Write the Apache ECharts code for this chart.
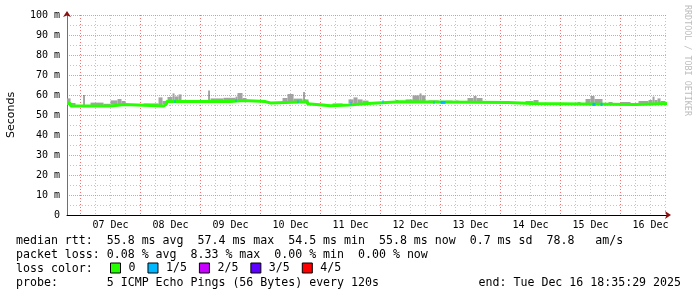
<!DOCTYPE html>
<html><head><meta charset="utf-8">
<script src="https://cdn.jsdelivr.net/npm/echarts@6/dist/echarts.min.js"></script>
<style>html,body{margin:0;padding:0;background:#fff}#c{width:697px;height:297px}</style>
</head><body><div id="c"></div>
<script>
// time unit: hours since 07 Dec 2025 00:00; window = 10 days ending Tue Dec 16 18:35:29 2025
const WINDOW_END_H = 9 * 24 + 18 + 35 / 60 + 29 / 3600;
const WINDOW_START_H = WINDOW_END_H - 240;
const DAY_LABELS = ['07 Dec', '08 Dec', '09 Dec', '10 Dec', '11 Dec', '12 Dec', '13 Dec', '14 Dec', '15 Dec', '16 Dec'];
const Y_MIN_MS = 0, Y_MAX_MS = 100, Y_STEP_MS = 10;

// median rtt (ms), piecewise constant from each start hour
const MEDIAN_START_H = [-5.41, -4.0, 12.0, 17.6, 33.2, 34.4, 60.0, 65.2, 74.0, 76.0, 90.8, 92.0, 100.0, 107.2, 114.8, 128.0, 171.2, 180.8, 222.0];
const MEDIAN_MS      = [55.7, 54.5, 55.2, 54.5, 55.5, 56.7, 57.2, 56.7, 56.0, 56.6, 55.5, 54.6, 55.0, 55.8, 56.6, 56.3, 55.7, 55.3, 55.8];

// smoke (spread of the 5 pings above the median): start hour, end hour, top (ms)
const SMOKE_START_H = [-5.4, -4.0, 4.0, 9.2, 12.0, 14.8, 16.4, 20.0, 25.2, 31.2, 32.8, 34.8, 36.8, 37.6, 39.2, 40.4, 44.8, 52.0, 57.2, 62.0, 62.8, 64.8, 67.2, 72.8, 80.8, 82.8, 85.2, 89.6, 94.0, 100.8, 107.2, 109.2, 110.8, 112.8, 126.0, 130.0, 132.8, 135.6, 136.4, 139.2, 146.0, 150.0, 154.8, 157.2, 158.4, 164.0, 178.0, 181.2, 186.0, 198.8, 202.0, 204.0, 205.6, 211.2, 216.0, 223.2, 227.2, 228.8, 229.6, 230.8, 232.0];
const SMOKE_END_H   = [-4.0, -2.0, 9.2, 12.0, 14.8, 16.4, 18.0, 25.2, 31.2, 32.8, 34.8, 36.8, 37.6, 39.2, 40.4, 42.0, 50.0, 57.2, 62.0, 62.8, 64.8, 66.4, 70.0, 76.0, 82.8, 85.2, 88.8, 91.2, 98.0, 104.8, 109.2, 110.8, 112.8, 115.2, 127.2, 132.8, 135.6, 136.4, 138.0, 143.2, 148.8, 151.2, 157.2, 158.4, 160.8, 168.0, 181.2, 183.2, 190.0, 200.0, 204.0, 205.6, 208.8, 212.8, 220.0, 227.2, 228.8, 229.6, 230.8, 232.0, 234.0];
const SMOKE_TOP_MS  = [58.3, 56.0, 56.2, 55.6, 57.3, 58.0, 57.0, 55.3, 55.8, 58.8, 57.0, 59.0, 60.8, 59.3, 60.3, 57.5, 57.2, 58.3, 58.6, 59.2, 61.0, 58.5, 57.0, 56.5, 58.5, 60.5, 58.2, 57.8, 55.6, 55.8, 57.8, 58.8, 57.8, 57.2, 57.5, 57.8, 59.8, 60.8, 59.8, 57.3, 57.2, 57.2, 58.5, 59.5, 58.5, 57.0, 57.0, 57.5, 56.0, 56.5, 58.0, 59.5, 58.0, 56.5, 56.5, 57.0, 57.5, 59.2, 57.5, 58.3, 57.0];

// single-ping outliers
const OUTLIER_H  = [1.2, 51.2, 89.2];
const OUTLIER_MS = [60.0, 62.2, 61.5];

// packet loss episodes (level in fifths)
const LOSS_START_H = [37.6, 62.0, 86.8, 108.0, 120.8, 141.2, 144.0, 204.8, 208.0];
const LOSS_END_H   = [38.0, 62.4, 87.2, 108.4, 121.2, 141.6, 146.0, 206.0, 208.8];
const LOSS_LEVEL   = [1, 1, 1, 1, 1, 1, 1, 1, 1];

const LOSS_LABELS = ['0', '1/5', '2/5', '3/5', '4/5'];
const LOSS_COLORS = ['#26ff00', '#00b8ff', '#c800ff', '#5e00ff', '#ff0000'];

const STAT_LINES = [
  'median rtt:  55.8 ms avg  57.4 ms max  54.5 ms min  55.8 ms now  0.7 ms sd  78.8   am/s',
  'packet loss: 0.08 % avg  8.33 % max  0.00 % min  0.00 % now',
  'loss color:',
  'probe:       5 ICMP Echo Pings (56 Bytes) every 120s'
];
const END_TEXT = 'end: Tue Dec 16 18:35:29 2025';
const WATERMARK = 'RRDTOOL / TOBI OETIKER';

const D = h => h / 24;
function medianAt(h) {
  let v = MEDIAN_MS[0];
  for (let i = 0; i < MEDIAN_START_H.length; i++) if (MEDIAN_START_H[i] <= h) v = MEDIAN_MS[i];
  return v;
}

const medianData = MEDIAN_START_H.map((h, i) => [D(h), MEDIAN_MS[i]]);
medianData.push([D(WINDOW_END_H), MEDIAN_MS[MEDIAN_MS.length - 1]]);

const smokeData = SMOKE_START_H.map((s, i) => [D(s), D(SMOKE_END_H[i]), SMOKE_TOP_MS[i], medianAt((s + SMOKE_END_H[i]) / 2)]);
const outlierData = OUTLIER_H.map((h, i) => [D(h), D(h + 0.4), OUTLIER_MS[i], medianAt(h)]);
const lossData = LOSS_START_H.map((s, i) => [D(s), D(LOSS_END_H[i]), medianAt((s + LOSS_END_H[i]) / 2), LOSS_LEVEL[i]]);

function bandRender(fill) {
  return function (params, api) {
    const p0 = api.coord([api.value(0), api.value(2)]);
    const p1 = api.coord([api.value(1), api.value(3)]);
    return { type: 'rect', shape: { x: p0[0], y: p0[1], width: Math.max(1, p1[0] - p0[0]), height: p1[1] - p0[1] }, style: { fill: fill } };
  };
}

const MONO = '"DejaVu Sans Mono", monospace';
const chart = echarts.init(document.getElementById('c'), null, { renderer: 'canvas' });

const redGrid = (dash, alpha) => ({ show: true, lineStyle: { color: 'rgba(240,20,20,' + alpha + ')', type: dash, width: 1 } });
const greyGrid = () => ({ show: true, lineStyle: { color: 'rgba(150,150,150,0.55)', type: [1, 2], width: 1 } });

const option = {
  animation: false,
  backgroundColor: '#ffffff',
  grid: { left: 67, top: 15, width: 600, height: 200, containLabel: false, outerBoundsMode: 'none' },
  xAxis: [
    {
      type: 'value', min: D(WINDOW_START_H), max: D(WINDOW_END_H),
      splitNumber: 10, minInterval: 1, maxInterval: 1,
      axisLine: { show: true, onZero: false, lineStyle: { color: '#000', width: 1 } },
      axisTick: { show: false }, axisLabel: { show: false },
      splitLine: Object.assign({ showMinLine: false, showMaxLine: false }, redGrid([1, 2], 0.6)),
      minorTick: { show: false, splitNumber: 4 },
      minorSplitLine: greyGrid()
    },
    {
      type: 'value', min: D(WINDOW_START_H - 12), max: D(WINDOW_END_H - 12),
      splitNumber: 10, minInterval: 1, maxInterval: 1, position: 'bottom',
      axisLine: { show: true, onZero: false, symbol: ['none', 'arrow'], symbolSize: [6, 6], symbolOffset: [0, 4], lineStyle: { color: '#8b1010', width: 0 } },
      axisTick: { show: false }, splitLine: { show: false },
      axisLabel: {
        show: true, showMinLabel: false, showMaxLabel: false, margin: 5,
        fontFamily: MONO, fontSize: 10, color: '#000',
        formatter: v => { const i = Math.round(v); return Math.abs(v - i) < 1e-6 && DAY_LABELS[i] ? DAY_LABELS[i] : ''; }
      }
    }
  ],
  yAxis: [
    {
      type: 'value', min: Y_MIN_MS, max: Y_MAX_MS, interval: Y_STEP_MS,
      name: 'Seconds', nameLocation: 'middle', nameGap: 50,
      nameTextStyle: { fontFamily: '"DejaVu Sans", sans-serif', fontSize: 11, color: '#000' },
      axisLine: { show: true, onZero: false, lineStyle: { color: '#707070', width: 1 } },
      axisTick: { show: false },
      axisLabel: { margin: 7, fontFamily: MONO, fontSize: 10, color: '#000', formatter: v => v === 0 ? '0' : v + ' m' },
      splitLine: Object.assign({ showMinLine: false }, redGrid([1, 1], 0.45)),
      minorTick: { show: false, splitNumber: 2 },
      minorSplitLine: greyGrid()
    },
    {
      type: 'value', min: Y_MIN_MS, max: Y_MAX_MS, interval: Y_STEP_MS, position: 'left',
      axisLine: { show: true, onZero: false, symbol: ['none', 'arrow'], symbolSize: [6, 6], symbolOffset: [0, 4], lineStyle: { color: '#8b1010', width: 0 } },
      axisTick: { show: false }, axisLabel: { show: false }, splitLine: { show: false }
    }
  ],
  legend: {
    data: LOSS_LABELS.map(n => ({ name: n, icon: 'rect' })),
    left: 110, top: 262, padding: 0, itemWidth: 10, itemHeight: 10, itemGap: 12, selectedMode: false,
    itemStyle: { borderColor: '#000', borderWidth: 1 },
    textStyle: { fontFamily: MONO, fontSize: 11.6, color: '#000', padding: [0, 0, 0, 3] }
  },
  graphic: [
    ...STAT_LINES.map((t, i) => ({ type: 'text', x: 16, y: 241 + i * 14, style: { text: t, font: '11.6px ' + MONO, fill: '#000', verticalAlign: 'middle' } })),
    { type: 'text', x: 681, y: 283, style: { text: END_TEXT, font: '11.6px ' + MONO, fill: '#000', align: 'right', verticalAlign: 'middle' } },
    { type: 'text', x: 687, y: 5, rotation: -Math.PI / 2, style: { text: WATERMARK, font: '8.4px ' + MONO, fill: '#bdbdbd', align: 'left', verticalAlign: 'middle' } }
  ],
  series: [
    { name: 'smoke', type: 'custom', xAxisIndex: 0, yAxisIndex: 0, renderItem: bandRender('#a3a3a3'), data: smokeData, clip: true, z: 2 },
    { name: 'outlier', type: 'custom', xAxisIndex: 0, yAxisIndex: 0, renderItem: bandRender('#505050'), data: outlierData, clip: true, z: 2 },
    { name: 'median', type: 'line', xAxisIndex: 0, yAxisIndex: 0, step: 'end', showSymbol: false, symbol: 'none', data: medianData,
      lineStyle: { color: LOSS_COLORS[0], width: 3 }, itemStyle: { color: LOSS_COLORS[0] }, clip: true, z: 3 },
    { name: 'loss', type: 'custom', xAxisIndex: 0, yAxisIndex: 0, clip: true, z: 4, data: lossData,
      renderItem: function (params, api) {
        const p0 = api.coord([api.value(0), api.value(2)]);
        const p1 = api.coord([api.value(1), api.value(2)]);
        return { type: 'rect', shape: { x: p0[0], y: p0[1] - 1.5, width: Math.max(1, p1[0] - p0[0]), height: 3 }, style: { fill: LOSS_COLORS[api.value(3)] } };
      } },
    ...LOSS_LABELS.map((n, i) => ({ name: n, type: 'line', data: [], itemStyle: { color: LOSS_COLORS[i] }, lineStyle: { color: LOSS_COLORS[i] } }))
  ]
};
chart.setOption(option);
</script></body></html>
